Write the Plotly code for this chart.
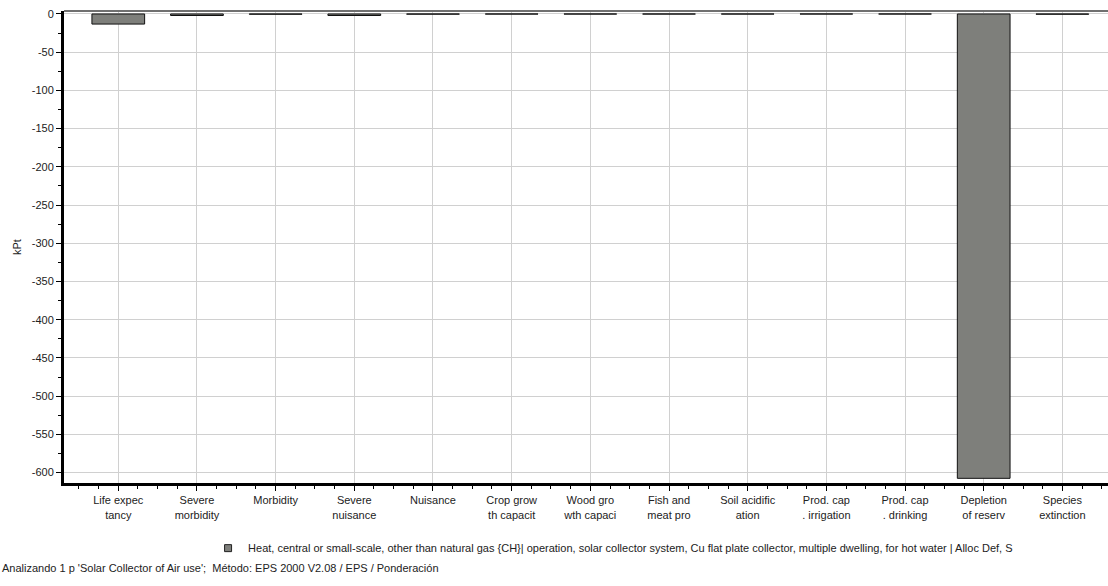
import plotly.graph_objects as go

# ── Data ─────────────────────────────────────────────────────────────────────
categories = [
    "Life expec<br>tancy", "Severe<br>morbidity", "Morbidity", "Severe<br>nuisance",
    "Nuisance", "Crop grow<br>th capacit", "Wood gro<br>wth capaci", "Fish and<br>meat pro",
    "Soil acidific<br>ation", "Prod. cap<br>. irrigation", "Prod. cap<br>. drinking",
    "Depletion<br>of reserv", "Species<br>extinction",
]
values_kpt = [-13.2, -2.0, -0.3, -2.0, -0.2, -0.1, -0.1, -0.1, -0.1, -0.05, -0.05, -607.5, -0.3]
y_ticks = list(range(0, -601, -50))
y_tick_labels = [str(v) for v in y_ticks]

series_name = ("Heat, central or small-scale, other than natural gas {CH}| operation, "
               "solar collector system, Cu flat plate collector, multiple dwelling, "
               "for hot water | Alloc Def, S")
footer = "Analizando 1 p 'Solar Collector of Air use';  Método: EPS 2000 V2.08 / EPS / Ponderación"

x_pos = list(range(len(categories)))
font_family = "Liberation Sans, Arial, sans-serif"
bar_color = "#7e7f7b"

fig = go.Figure()
fig.add_trace(go.Bar(
    x=x_pos,
    y=values_kpt,
    width=0.67,
    name=series_name,
    showlegend=False,
    marker=dict(color=bar_color, line=dict(color="#111111", width=1)),
))
# legend entry only (small square symbol like the original)
fig.add_trace(go.Scatter(
    x=[None], y=[None], mode="markers", name=series_name,
    marker=dict(symbol="square", size=7, color=bar_color, line=dict(color="#222222", width=1)),
))

fig.update_layout(
    width=1108, height=586,
    margin=dict(l=64, r=0, t=11, b=103, autoexpand=False),
    plot_bgcolor="white",
    paper_bgcolor="white",
    font=dict(family=font_family, size=11, color="#222222"),
    showlegend=True,
    legend=dict(orientation="h", x=0.138, xanchor="left", y=-0.138, yanchor="middle",
                font=dict(size=11), itemwidth=30),
)

fig.update_xaxes(
    range=[-0.69, 12.58],
    tickvals=x_pos,
    ticktext=categories,
    automargin=False,
    showgrid=True, gridcolor="#d0d0d0", gridwidth=1,
    showline=True, linecolor="black", linewidth=3,
    ticks="outside", ticklen=5, tickcolor="black",
    minor=dict(dtick=0.25, tick0=0, ticks="outside", ticklen=3, tickcolor="black", showgrid=False),
    zeroline=False,
)
fig.update_yaxes(
    range=[-613.6, 3.9],
    tickvals=y_ticks,
    ticktext=y_tick_labels,
    automargin=False,
    title=dict(text="kPt", font=dict(size=11), standoff=8),
    showgrid=True, gridcolor="#d0d0d0", gridwidth=1,
    showline=True, linecolor="black", linewidth=3,
    ticks="outside", ticklen=5, tickcolor="black",
    minor=dict(dtick=25, ticks="outside", ticklen=3, tickcolor="black", showgrid=False),
    zeroline=False,
)

# grey top border of plot area
fig.add_shape(type="line", xref="paper", yref="paper", x0=0, x1=1, y0=1, y1=1,
              line=dict(color="#707070", width=2))

fig.add_annotation(text=footer, xref="paper", yref="paper", x=-0.061, y=-0.18,
                   xanchor="left", yanchor="middle", showarrow=False,
                   font=dict(size=11, color="#222222"))

# drop the default page margin so the figure sits at the window's top-left
fig.write_html("out.html", config={"displayModeBar": False},
               post_script="document.body.style.margin='0';")
